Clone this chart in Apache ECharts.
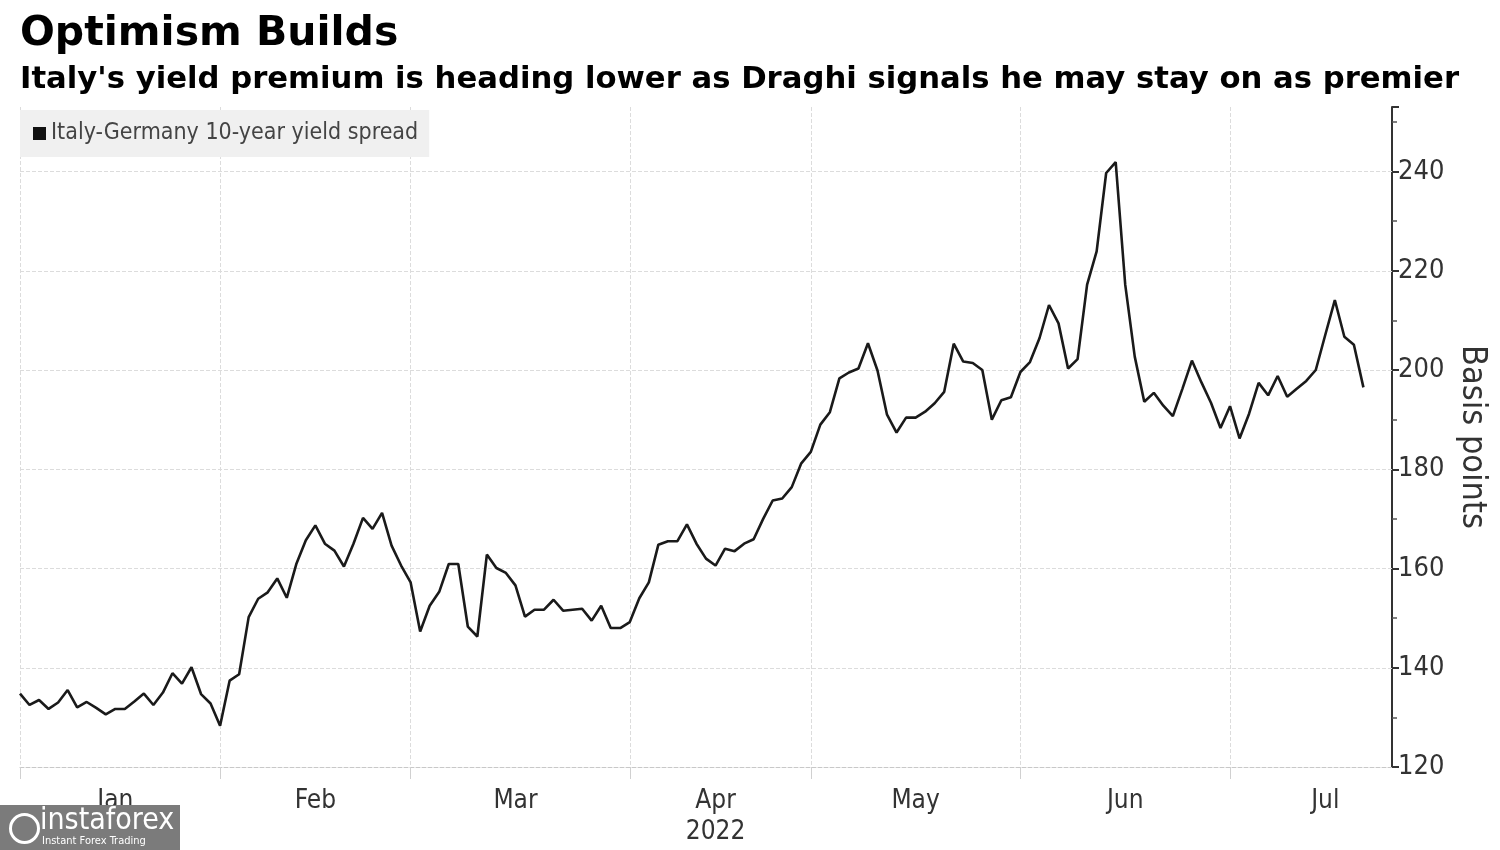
<!DOCTYPE html>
<html>
<head>
<meta charset="utf-8">
<script src="https://cdn.jsdelivr.net/npm/echarts@6/dist/echarts.min.js"></script>
<style>
html,body{margin:0;padding:0;background:#fff;}
#chart{width:1500px;height:850px;}
</style>
</head>
<body>
<div id="chart"></div>
<script>
// Trading-day series (basis points), Jan 2022 .. early Jul 2022
const spread = [
  134.8, 132.5, 133.5, 131.7, 133.0, 135.5, 132.0, 133.1, 131.9, 130.6, 131.7, 131.7, 133.2, 134.8, 132.5, 135.0, 138.9, 136.8, 140.1, 134.7, 132.8,
  128.3, 137.4, 138.7, 150.2, 153.9, 155.2, 158.0, 154.1, 160.9, 165.7, 168.7, 165.0, 163.6, 160.4, 165.0, 170.2, 168.0, 171.2, 164.6, 160.6,
  157.2, 147.3, 152.5, 155.3, 160.9, 160.9, 148.3, 146.3, 162.8, 160.1, 159.1, 156.6, 150.3, 151.7, 151.7, 153.7, 151.5, 151.7, 151.9, 149.5, 152.5, 148.0, 148.0,
  149.2, 154.0, 157.2, 164.8, 165.5, 165.5, 168.9, 165.0, 162.0, 160.6, 164.0, 163.5, 165.0, 165.9, 170.0, 173.7, 174.1, 176.4, 181.2,
  183.5, 189.0, 191.5, 198.3, 199.5, 200.3, 205.4, 199.9, 191.0, 187.4, 190.4, 190.4, 191.6, 193.3, 195.6, 205.3, 201.7, 201.4, 200.0, 190.0, 193.9, 194.5,
  199.6, 201.6, 206.4, 213.1, 209.4, 200.3, 202.2, 217.2, 223.9, 239.7, 241.9, 217.2, 202.7, 193.6, 195.4, 192.8, 190.7, 196.2, 201.9, 197.5, 193.4, 188.3,
  192.7, 186.2, 191.2, 197.4, 194.9, 198.8, 194.6, 196.2, 197.8, 200.0, 207.1, 214.1, 206.7, 205.1, 196.5
];
// Month names and index of each month's first trading day on the axis
const monthNames = ['Jan', 'Feb', 'Mar', 'Apr', 'May', 'Jun', 'Jul'];
const monthStartIdx = [0, 21, 41, 64, 83, 105, 127];
const axisSlots = 145; // trading-day slots on the axis (data + empty space at right)
const yearLabel = '2022';
const yTicks = [120, 140, 160, 180, 200, 220, 240];
const seriesName = 'Italy-Germany 10-year yield spread';
const titleText = 'Optimism Builds';
const subtitleText = "Italy's yield premium is heading lower as Draghi signals he may stay on as premier";
const yName = 'Basis points';

const categories = Array.from({length: axisSlots}, (_, i) => String(i));
const labelIdx = monthStartIdx.map((s, k) => k < monthStartIdx.length - 1 ? Math.floor((s + monthStartIdx[k + 1]) / 2) : s + 10);

const chart = echarts.init(document.getElementById('chart'), null, {renderer: 'canvas'});
const FONT = "'DejaVu Sans Condensed', 'DejaVu Sans', sans-serif";

chart.setOption({
  animation: false,
  backgroundColor: '#ffffff',
  title: [
    {text: titleText, left: 15, top: 9, textStyle: {fontFamily: 'DejaVu Sans', fontWeight: 'bold', fontSize: 41, color: '#000'}},
    {text: subtitleText, left: 15, top: 60, textStyle: {fontFamily: 'DejaVu Sans', fontWeight: 'bold', fontSize: 30.7, color: '#000'}}
  ],
  legend: {
    left: 20, top: 110,
    padding: [12, 11, 12, 13],
    backgroundColor: '#f0f0f0',
    icon: 'rect', itemWidth: 13, itemHeight: 13, itemGap: 6,
    textStyle: {fontFamily: FONT, fontSize: 23, color: '#444'},
    data: [{name: seriesName, itemStyle: {color: '#111'}}]
  },
  grid: {left: 20, right: 108, top: 107, bottom: 83, containLabel: false},
  xAxis: {
    type: 'category', data: categories, boundaryGap: false,
    axisLine: {show: true, lineStyle: {color: '#c8c8c8', type: 'dashed', width: 1}},
    axisTick: {show: true, interval: (i) => monthStartIdx.includes(i), length: 12, lineStyle: {color: '#d0d0d0'}},
    splitLine: {show: true, interval: (i) => monthStartIdx.includes(i), lineStyle: {color: '#dcdcdc', type: 'dashed', width: 1}},
    axisLabel: {
      interval: (i) => labelIdx.includes(i),
      formatter: (v, i) => {
        const k = labelIdx.indexOf(i);
        if (k < 0) return '';
        return monthNames[k] === 'Apr' ? monthNames[k] + '\n' + yearLabel : monthNames[k];
      },
      fontFamily: FONT, fontSize: 26, color: '#333', margin: 19, lineHeight: 31
    }
  },
  yAxis: {
    type: 'value', position: 'right', min: 120, max: 253, interval: 20,
    axisLine: {show: true, lineStyle: {color: '#333', width: 2}},
    axisTick: {show: true, inside: false, length: 7, lineStyle: {color: '#333', width: 2}},
    minorTick: {show: true, splitNumber: 2, length: 5, lineStyle: {color: '#555', width: 1.5}},
    splitLine: {show: false},
    axisLabel: {showMaxLabel: false, fontFamily: FONT, fontSize: 27, color: '#333', margin: 6},
    name: yName, nameLocation: 'middle', nameRotate: -90, nameGap: 58,
    nameTextStyle: {fontFamily: FONT, fontSize: 34, color: '#333'}
  },
  series: [{
    name: seriesName, type: 'line', data: spread, showSymbol: false, symbol: 'none',
    lineStyle: {color: '#1a1a1a', width: 2.6}, itemStyle: {color: '#111'},
    markLine: {
      silent: true, symbol: 'none', label: {show: false},
      lineStyle: {color: '#dcdcdc', type: 'dashed', width: 1},
      data: yTicks.filter(v => v > 120).map(v => ({yAxis: v}))
    },
    z: 5
  }],
  graphic: [
    {type: 'rect', left: 0, top: 805, shape: {width: 180, height: 45}, style: {fill: '#7b7b7b'}, z: 100},
    {type: 'circle', left: 8, top: 812, shape: {r: 14}, style: {fill: 'none', stroke: '#fff', lineWidth: 3}, z: 101},
    {type: 'text', left: 40, top: 806, style: {text: 'instaforex', fill: '#fff', font: "30px 'DejaVu Sans Condensed', sans-serif"}, z: 101},
    {type: 'text', left: 42, top: 836, style: {text: 'Instant Forex Trading', fill: '#fff', font: "11px 'DejaVu Sans Condensed', sans-serif"}, z: 101}
  ]
});
</script>
</body>
</html>
